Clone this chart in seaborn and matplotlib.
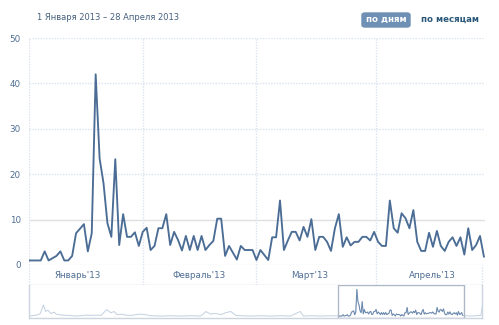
import matplotlib
matplotlib.use("Agg")
import matplotlib.pyplot as plt
from matplotlib.patches import FancyBboxPatch, Rectangle
import seaborn as sns
import pandas as pd
import numpy as np

# ---------------- data ----------------
jan = [1, 1, 1, 1, 3, 1, 1.5, 2, 3, 1, 1, 2, 7, 8, 9, 3, 7, 42, 23.5, 18, 9.2, 6.2,
       23.3, 4.4, 11.2, 6.2, 6.2, 7.2, 4.2, 7.3, 8.2]
feb = [3.3, 4.2, 8.1, 8.1, 11.2, 4.4, 7.3, 5.5, 3.2, 6.4, 3.3, 6.4, 3.3, 6.4, 3.3,
       4.4, 5.3, 10.2, 10.2, 2, 4.2, 2.7, 1.2, 4.2, 3.3, 3.3, 3.3, 1.1]
mar = [3.3, 2.2, 1.1, 6.1, 6.1, 14.2, 3.3, 5.4, 7.3, 7.3, 5.4, 8.4, 6.2, 10.1, 3.3,
       6.2, 6.2, 5.1, 3.1, 8.1, 11.2, 4.0, 6.1, 4.3, 5.1, 5.1, 6.2, 6.2, 5.4, 7.3, 5.1]
apr = [4.2, 4.2, 14.2, 8.1, 7.1, 11.4, 10.3, 8.1, 12.1, 5.1, 3.1, 3.1, 7.1, 4.0, 7.5,
       4.2, 3.1, 5.1, 6.1, 4.2, 6.1, 2.3, 8.1, 3.3, 4.4, 6.4, 1.8]
values = jan + feb + mar + apr

# navigator history (day offset from 1 Jan 2013, value)
nav_before_days = [-289, -285, -281, -279, -276, -274, -272, -269, -266, -264, -261, -257,
                   -253, -250, -246, -241, -236, -232, -227, -222, -217, -213, -210, -207,
                   -204, -199, -194, -190, -185, -180, -176, -166, -157, -148, -138, -129,
                   -124, -120, -115, -110, -106, -101, -96, -92, -82, -73, -64, -54, -45,
                   -36, -33, -26, -17, -7]
nav_before_vals = [1, 2, 3, 5, 18, 8, 10, 5, 7, 4, 3, 2.5,
                   2, 1.5, 1, 1.5, 2.5, 2, 2.5, 2, 11, 6, 8, 3,
                   4, 2.5, 2, 3, 4, 3, 1.5, 1, 1.5, 1, 1.5, 1,
                   8, 4, 5, 3, 6, 8, 2, 1.5, 1, 1.5, 1, 1.5, 1,
                   8, 1, 1.5, 1, 1.5]
nav_after_days = [119, 123, 128, 133, 135]
nav_after_vals = [1.5, 1, 1.5, 2, 25]

y_ticks = [0, 10, 20, 30, 40, 50]
month_labels = ["Январь'13", "Февраль'13", "Март'13", "Апрель'13"]
title_text = "1 Января 2013 – 28 Апреля 2013"

# ---------------- style ----------------
sns.set_style("white")
plt.rcParams['font.family'] = ['DejaVu Sans']

W, H = 499, 325
fig = plt.figure(figsize=(W / 100, H / 100), dpi=100)


def px_axes(x0, y0, x1, y1):
    return fig.add_axes([x0 / W, 1 - y1 / H, (x1 - x0) / W, (y1 - y0) / H])


LINE = "#4b6d95"
TXT = "#4f6f94"
GRID = "#dbe3ee"
PXD = 3.922
XMAX = (485 - 29) / PXD
seps = [(143.3 - 29) / PXD, (256 - 29) / PXD, (376 - 29) / PXD]
right_sep = (482 - 29) / PXD

# main plot
ax = px_axes(29, 38, 485, 265)
df = pd.DataFrame({"day": np.arange(len(values)), "value": values})
for t in y_ticks:
    if t == 10:
        ax.axhline(t, color="#e0e0e0", lw=1, zorder=0)
    else:
        ax.axhline(t, color=GRID, lw=1, ls=(0, (1, 1)), zorder=0)
sns.lineplot(data=df, x="day", y="value", ax=ax, color=LINE, lw=1.35, zorder=3)
ax.set_xlim(0, XMAX)
ax.set_ylim(0, 50)
ax.set_yticks(y_ticks)
ax.set_yticklabels([str(t) for t in y_ticks])
ax.tick_params(axis="y", length=0, pad=6, labelsize=6.3, labelcolor=TXT)
ax.set_xticks([])
ax.set_xlabel("")
ax.set_ylabel("")
for s in ax.spines.values():
    s.set_visible(False)
ax.patch.set_alpha(0)
ax.axvline(0, color=GRID, lw=1, ls=(0, (1, 1)), zorder=0)
for s in seps:
    ax.axvline(s, color=GRID, lw=1, ls=(0, (1, 1)), zorder=0)

# month label row
lab = px_axes(29, 265, 485, 285)
lab.set_xlim(0, XMAX)
lab.set_ylim(0, 1)
lab.axis("off")
for s in [0] + seps + [right_sep]:
    lab.axvline(s, color=GRID, lw=1, ls=(0, (1, 1)))
lab.plot([0, right_sep], [0, 0], color="#ccd5e0", lw=1, clip_on=False)
label_pos = [(77.5 - 29) / PXD, (199 - 29) / PXD, (310 - 29) / PXD, (432 - 29) / PXD]
for p, m in zip(label_pos, month_labels):
    lab.text(p, 0.45, m, ha="center", va="center", fontsize=6.3, color=TXT)

# navigator
nav = px_axes(29, 285, 482, 318)
nav_days = nav_before_days + list(range(len(values))) + nav_after_days
nav_vals = nav_before_vals + values + nav_after_vals
ndf = pd.DataFrame({"day": nav_days, "value": nav_vals})
sns.lineplot(data=ndf, x="day", y="value", ax=nav, color="#c2d0e0", lw=0.7)
sns.lineplot(data=df, x="day", y="value", ax=nav, color="#6a88ad", lw=0.7)
nav.set_xlim(-289.5, 134)
nav.set_ylim(-2, 48.8)
nav.set_xticks([])
nav.set_yticks([])
nav.set_xlabel("")
nav.set_ylabel("")
for s in nav.spines.values():
    s.set_color("#ccd5e0")
    s.set_linewidth(1)
nav.spines["top"].set_visible(False)
nav.add_patch(Rectangle((-0.5, -2), 118, 50.8, fill=False, ec="#aeb8c4", lw=1, zorder=5))

# header
fig.text(37 / W, 1 - 17.5 / H, title_text, fontsize=6.0, color="#45607f", va="center", ha="left")
btn = FancyBboxPatch((362 / W, 1 - 27 / H), 48 / W, 14 / H,
                     boxstyle="round,pad=0,rounding_size=0.006",
                     transform=fig.transFigure, fc="#6f90b5", ec="#6f90b5")
fig.patches.append(btn)
fig.text(386 / W, 1 - 19.5 / H, "по дням", fontsize=6.2, color="white",
         fontweight="bold", ha="center", va="center")
fig.text(450 / W, 1 - 19.5 / H, "по месяцам", fontsize=6.2, color="#2b587a",
         fontweight="bold", ha="center", va="center")

fig.savefig("out.png", dpi=100, facecolor="white")
